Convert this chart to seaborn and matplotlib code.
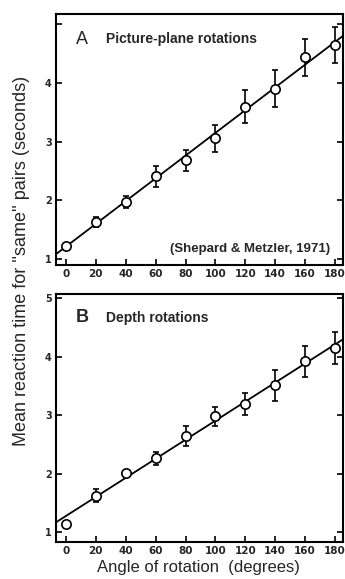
import matplotlib
matplotlib.use("Agg")
import matplotlib.pyplot as plt
import seaborn as sns
import numpy as np
import pandas as pd

angles = [0, 20, 40, 60, 80, 100, 120, 140, 160, 180]
rt_picture = [1.23, 1.64, 1.97, 2.41, 2.68, 3.06, 3.59, 3.90, 4.43, 4.64]
err_picture = [0.03, 0.085, 0.10, 0.18, 0.18, 0.23, 0.28, 0.31, 0.32, 0.30]
rt_depth = [1.14, 1.62, 2.01, 2.26, 2.64, 2.98, 3.19, 3.51, 3.92, 4.15]
err_depth = [0.0, 0.11, 0.02, 0.11, 0.17, 0.16, 0.19, 0.26, 0.27, 0.27]
x_ticks = [0, 20, 40, 60, 80, 100, 120, 140, 160, 180]

sns.set_style("white")
plt.rcParams['font.family'] = ['Liberation Sans Narrow', 'Liberation Sans', 'DejaVu Sans']

fig = plt.figure(figsize=(3.45, 5.79), dpi=100)
axA = fig.add_axes([0.162, 0.542, 0.833, 0.434])
axB = fig.add_axes([0.162, 0.064, 0.833, 0.428])

def panel(ax, y, e, ylim, yticks, ylabels):
    ax.set_xlim(-6.7, 185.5)
    ax.set_ylim(*ylim)
    df = pd.DataFrame({"angle": angles, "rt": y})
    sns.regplot(data=df, x="angle", y="rt", ax=ax, scatter=False, ci=None,
                truncate=False, line_kws=dict(color="black", lw=1.3))
    ax.errorbar(angles, y, yerr=e, fmt="none", ecolor="black", elinewidth=1.2,
                capsize=2.5, capthick=1.2, zorder=3)
    sns.scatterplot(data=df, x="angle", y="rt", ax=ax, s=45, facecolor="white",
                    edgecolor="black", linewidth=1.2, zorder=4)
    ax.set_xlim(-6.7, 185.5)
    ax.set_ylim(*ylim)
    ax.set_xticks(x_ticks)
    ax.set_xticklabels([str(t) for t in x_ticks], fontsize=7.5, fontweight="bold",
                       family="DejaVu Sans")
    ax.set_yticks(yticks)
    ax.set_yticklabels(ylabels, fontsize=7, fontweight="bold", family="DejaVu Sans")
    ax.tick_params(axis="both", direction="in", length=4, width=1.2, color="black",
                   pad=3)
    ax.tick_params(axis="y", right=True, left=True)
    ax.tick_params(axis="x", bottom=True, top=False)
    ax.set_xlabel("")
    ax.set_ylabel("")
    for s in ax.spines.values():
        s.set_color("black")
        s.set_linewidth(1.5)

panel(axA, rt_picture, err_picture, (0.9, 5.17), [1, 2, 3, 4, 5], ["1", "2", "3", "4", ""])
panel(axB, rt_depth, err_depth, (0.83, 5.07), [1, 2, 3, 4, 5], ["1", "2", "3", "4", "5"])

axA.text(0.07, 0.9, "A", transform=axA.transAxes, fontsize=13, va="center", ha="left")
axA.text(0.175, 0.9, "Picture-plane rotations", transform=axA.transAxes, fontsize=10,
         fontweight="bold", va="center", ha="left")
axA.text(0.955, 0.065, "(Shepard & Metzler, 1971)", transform=axA.transAxes, fontsize=9.5,
         fontweight="bold", va="center", ha="right")
axB.text(0.07, 0.905, "B", transform=axB.transAxes, fontsize=13, fontweight="bold",
         va="center", ha="left")
axB.text(0.175, 0.905, "Depth rotations", transform=axB.transAxes, fontsize=10,
         fontweight="bold", va="center", ha="left")

fig.text(0.062, 0.55, "Mean reaction time for ''same'' pairs (seconds)",
         rotation=90, fontsize=13, ha="center", va="center")
fig.text(0.575, 0.019, "Angle of rotation  (degrees)", fontsize=12, ha="center", va="center")

fig.savefig("out.png", dpi=100)
